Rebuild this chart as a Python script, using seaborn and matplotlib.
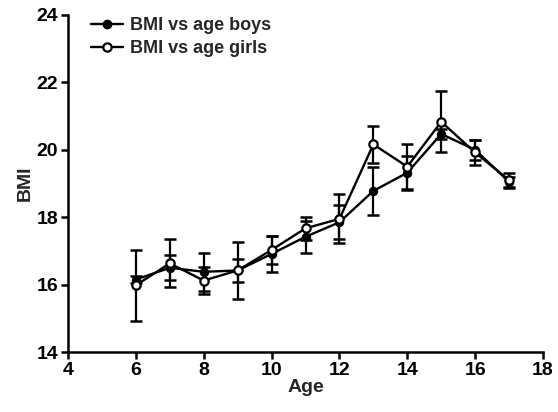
import numpy as np
import pandas as pd
import matplotlib
matplotlib.use("Agg")
import matplotlib.pyplot as plt
import seaborn as sns
from matplotlib.lines import Line2D

ages = [6, 7, 8, 9, 10, 11, 12, 13, 14, 15, 16, 17]
boys_bmi = [16.15, 16.50, 16.38, 16.42, 16.91, 17.42, 17.85, 18.78, 19.32, 20.47, 20.00, 19.05]
boys_err = [0.10, 0.37, 0.57, 0.33, 0.53, 0.47, 0.50, 0.70, 0.50, 0.15, 0.30, 0.15]
girls_bmi = [15.98, 16.63, 16.12, 16.42, 17.03, 17.67, 17.95, 20.16, 19.50, 20.83, 19.92, 19.10]
girls_err = [1.05, 0.71, 0.40, 0.85, 0.41, 0.35, 0.73, 0.56, 0.67, 0.90, 0.37, 0.22]

sns.set_style("ticks")
plt.rcParams['font.family'] = ['Liberation Sans', 'DejaVu Sans']
plt.rcParams['font.weight'] = 'bold'

boys_df = pd.DataFrame({"Age": ages, "BMI": boys_bmi})
girls_df = pd.DataFrame({"Age": ages, "BMI": girls_bmi})

fig = plt.figure(figsize=(5.58, 4.12), dpi=100)
ax = fig.add_axes([0.1219, 0.1456, 0.8512, 0.818])

for bmi, err in [(boys_bmi, boys_err), (girls_bmi, girls_err)]:
    ax.errorbar(ages, bmi, yerr=err, fmt='none', ecolor='black', elinewidth=1.6,
                capsize=4.5, capthick=1.8, zorder=2)

sns.lineplot(data=boys_df, x="Age", y="BMI", color="black", marker="o",
             markersize=6, markerfacecolor="black", markeredgecolor="black",
             linewidth=1.7, ax=ax, zorder=3)
sns.lineplot(data=girls_df, x="Age", y="BMI", color="black", marker="o",
             markersize=6, markerfacecolor="white", markeredgecolor="black",
             markeredgewidth=1.6, linewidth=1.7, ax=ax, zorder=4)

ax.set_xlim(4, 18)
ax.set_ylim(14, 24)
ax.set_xticks(range(4, 19, 2))
ax.set_yticks(range(14, 25, 2))
ax.set_xlabel("Age", fontsize=14, fontweight='bold', labelpad=0)
ax.set_ylabel("BMI", fontsize=14, fontweight='bold', labelpad=2)
ax.tick_params(axis='both', labelsize=14, width=1.8, length=5, direction='out', pad=2,
               colors='black')
for lab in ax.get_xticklabels() + ax.get_yticklabels():
    lab.set_fontweight('bold')
sns.despine(ax=ax)
for s in ['left', 'bottom']:
    ax.spines[s].set_linewidth(1.8)
    ax.spines[s].set_color('black')

handles = [
    Line2D([0], [0], color='black', lw=1.7, marker='o', markersize=6,
           markerfacecolor='black', markeredgecolor='black'),
    Line2D([0], [0], color='black', lw=1.7, marker='o', markersize=6,
           markerfacecolor='white', markeredgecolor='black', markeredgewidth=1.6),
]
leg = ax.legend(handles, ["BMI vs age boys", "BMI vs age girls"], loc='upper left',
                frameon=False, fontsize=13, handlelength=1.8, handletextpad=0.4,
                borderaxespad=0.2, labelspacing=0.3, bbox_to_anchor=(0.025, 1.025))
for t in leg.get_texts():
    t.set_fontweight('bold')

fig.savefig("out.png", dpi=100)
